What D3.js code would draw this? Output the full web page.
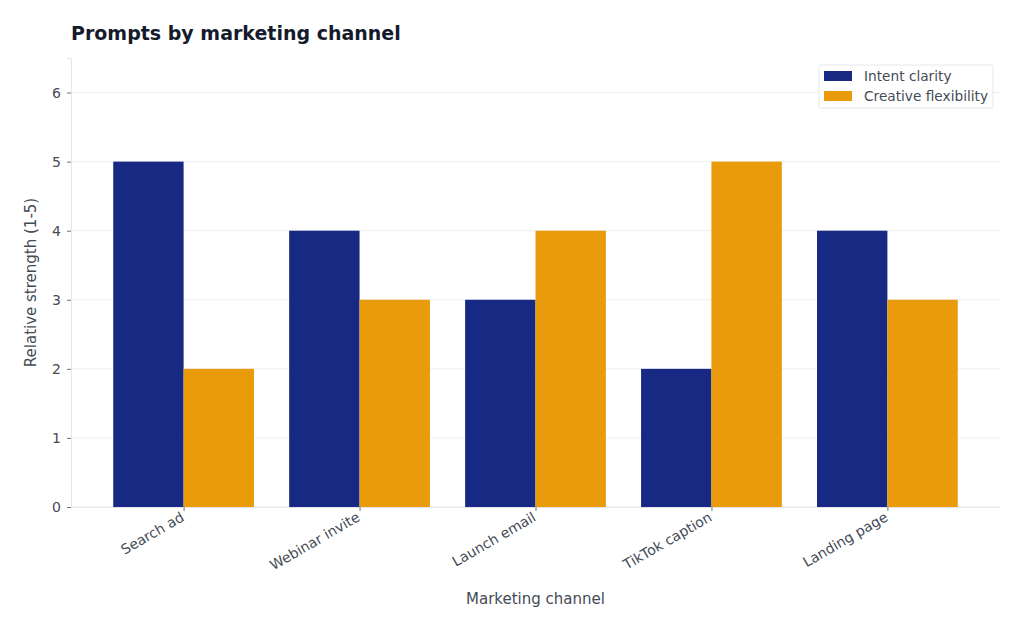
<!DOCTYPE html>
<html>
<head>
<meta charset="utf-8">
<script src="https://cdn.jsdelivr.net/npm/d3@7"></script>
<style>
  body { margin: 0; background: #fff; }
  svg { font-family: "DejaVu Sans", sans-serif; }
</style>
</head>
<body>
<div id="chart"></div>
<script>
// data
var channels = ["Search ad", "Webinar invite", "Launch email", "TikTok caption", "Landing page"];
var seriesNames = ["Intent clarity", "Creative flexibility"];
var intentClarity = [5, 4, 3, 2, 4];
var creativeFlex = [2, 3, 4, 5, 3];
var yTicks = [0, 1, 2, 3, 4, 5, 6];

var colors = ["#172983", "#e99b0c"];
var values = [intentClarity, creativeFlex];

var width = 1024, height = 631,
    margin = {left: 71, right: 24, top: 58, bottom: 124},
    barW = 0.4;

var svg = d3.select("#chart").append("svg").attr("width", width).attr("height", height);

var x = d3.scaleLinear().domain([-0.64, channels.length - 1 + 0.64]).range([margin.left, width - margin.right]);
var y = d3.scaleLinear().domain([0, 6.5]).range([height - margin.bottom, margin.top]);

// grid
svg.append("g").selectAll("line").data(yTicks).enter().append("line")
  .attr("x1", margin.left).attr("x2", width - margin.right)
  .attr("y1", function(d){ return y(d); }).attr("y2", function(d){ return y(d); })
  .attr("stroke", "#eeeff2").attr("stroke-width", 1);

// bars
values.forEach(function(vals, s) {
  svg.append("g").selectAll("rect").data(vals).enter().append("rect")
    .attr("x", function(d, i){ return x(i - barW + s * barW); })
    .attr("width", function(d, i){ return x(i) - x(i - barW); })
    .attr("y", function(d){ return y(d); })
    .attr("height", function(d){ return y(0) - y(d); })
    .attr("fill", colors[s]);
});

// y axis
var yAxis = svg.append("g").attr("transform", "translate(" + margin.left + ",0)")
  .call(d3.axisLeft(y).tickValues(yTicks).tickSize(4).tickPadding(6).tickFormat(d3.format("d")));
yAxis.select(".domain").attr("stroke", "#e3e5e8");
yAxis.selectAll(".tick line").attr("stroke", "#6b7280");
yAxis.selectAll(".tick text").attr("fill", "#444b55").style("font-size", "14px").style("font-family", "DejaVu Sans");

// x axis
var xAxis = svg.append("g").attr("transform", "translate(0," + y(0) + ")")
  .call(d3.axisBottom(x).tickValues(d3.range(channels.length)).tickSize(4).tickSizeOuter(0)
    .tickFormat(function(d){ return channels[d]; }));
xAxis.select(".domain").attr("stroke", "#e3e5e8");
xAxis.selectAll(".tick line").attr("stroke", "#6b7280");
xAxis.selectAll(".tick text")
  .attr("fill", "#444b55").style("font-size", "14px").style("font-family", "DejaVu Sans")
  .attr("text-anchor", "end").attr("dy", null).attr("y", 0)
  .attr("transform", "translate(1,13) rotate(-30)");

// axis titles
svg.append("text").attr("x", (margin.left + width - margin.right) / 2).attr("y", 604)
  .attr("text-anchor", "middle").attr("fill", "#444b55").style("font-size", "15px")
  .text("Marketing channel");
svg.append("text").attr("transform", "translate(36," + (y(0) + y(6.5)) / 2 + ") rotate(-90)")
  .attr("text-anchor", "middle").attr("fill", "#444b55").style("font-size", "15px")
  .text("Relative strength (1-5)");

// title
svg.append("text").attr("x", 71).attr("y", 40)
  .attr("fill", "#151b2c").style("font-size", "19px").style("font-weight", "bold")
  .text("Prompts by marketing channel");

// legend
var lg = svg.append("g").attr("transform", "translate(819,65)");
lg.append("rect").attr("width", 174).attr("height", 43).attr("rx", 2)
  .attr("fill", "#fff").attr("stroke", "#e6e8eb");
lg.selectAll("g").data(seriesNames).enter().append("g")
  .attr("transform", function(d, i){ return "translate(0," + (11 + i * 20) + ")"; })
  .each(function(d, i) {
    d3.select(this).append("rect").attr("x", 5).attr("y", -5).attr("width", 28).attr("height", 10).attr("fill", colors[i]);
    d3.select(this).append("text").attr("x", 45).attr("y", 5)
      .attr("fill", "#444b55").style("font-size", "13.7px").text(d);
  });
</script>
</body>
</html>
